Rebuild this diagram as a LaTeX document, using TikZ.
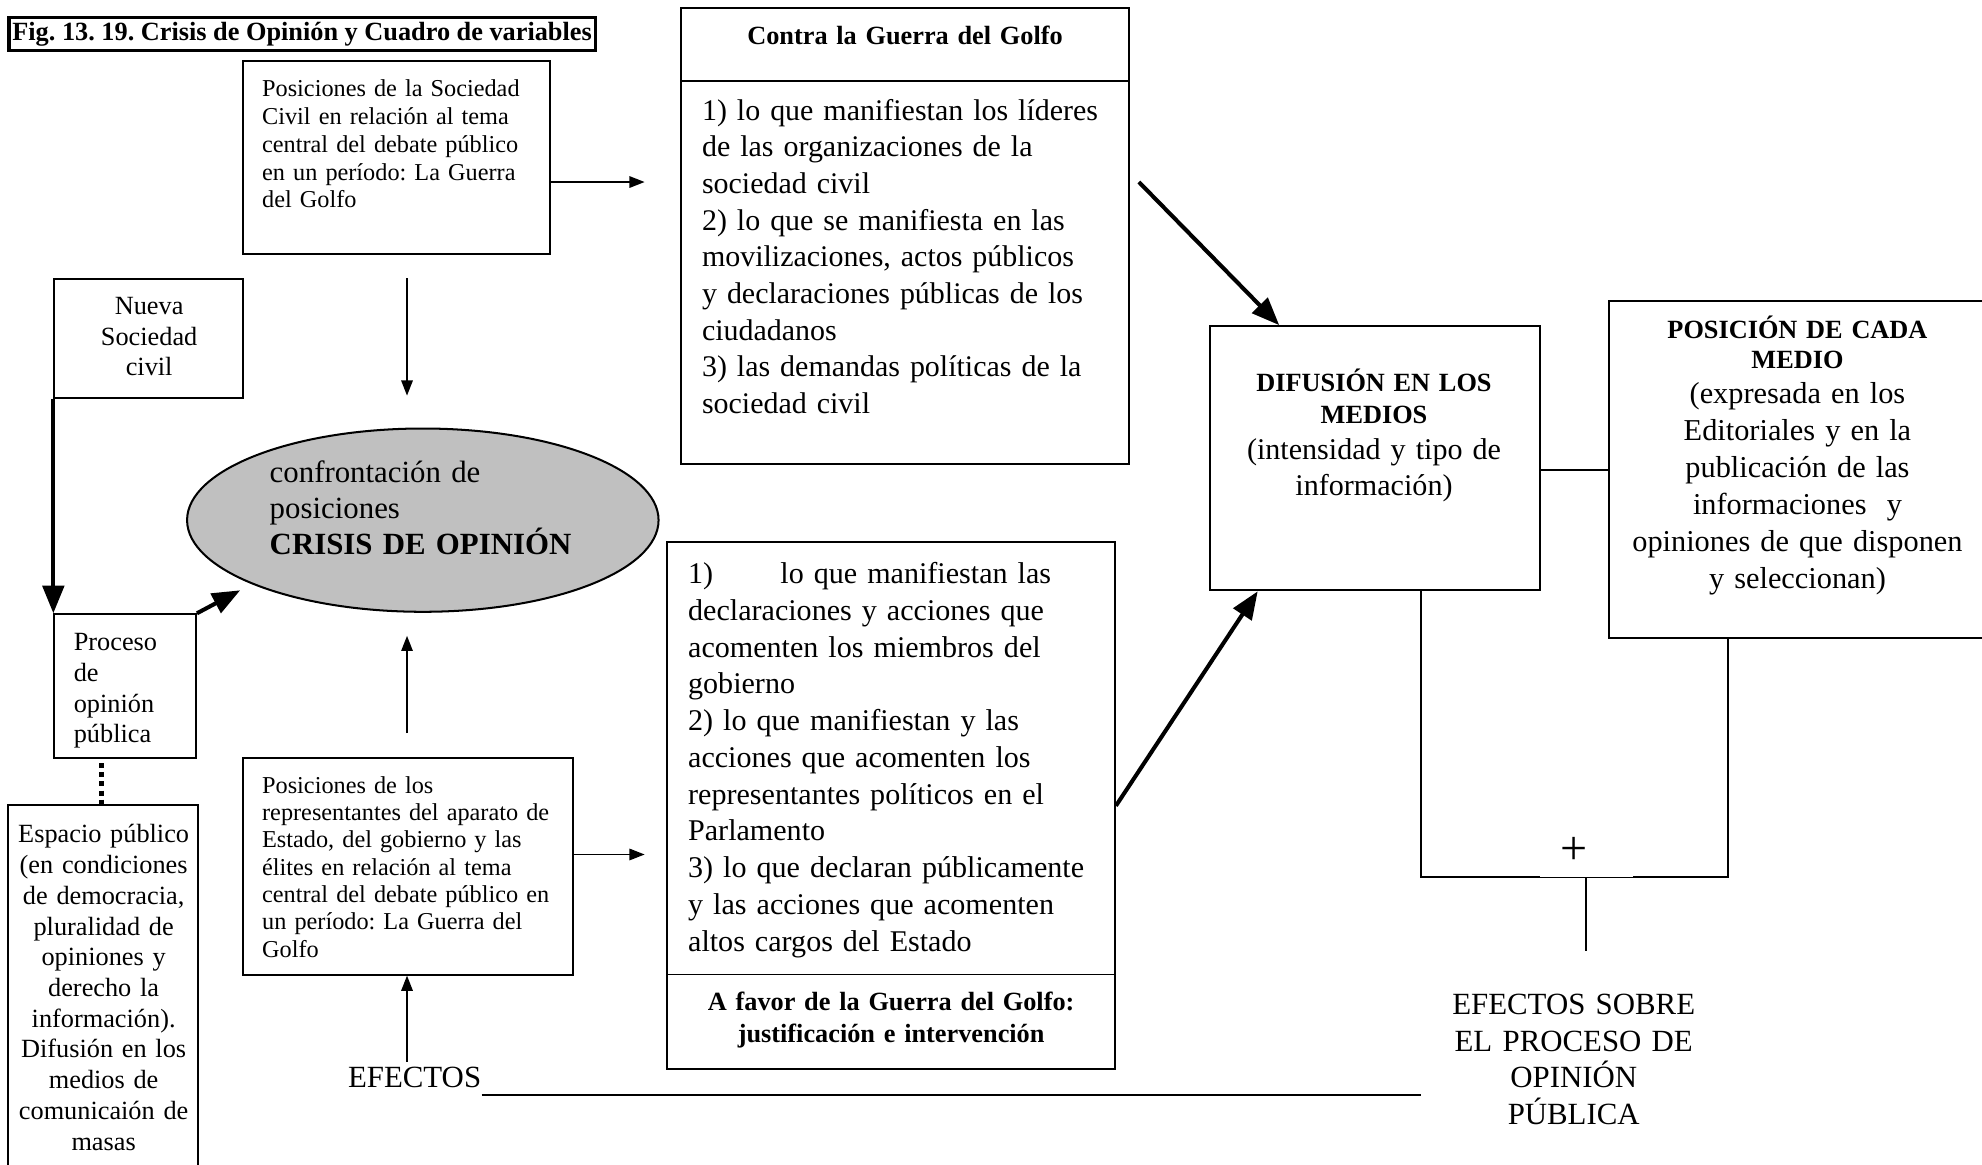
\documentclass[tikz,border=0pt]{standalone}
\usepackage{fontspec}
\setmainfont{Liberation Serif}
\usetikzlibrary{arrows.meta,shapes.geometric,fit}
\definecolor{ellgray}{HTML}{C0C0C0}
\frenchspacing
\begin{document}
\begin{tikzpicture}[x=0.5pt,y=-0.5pt,
  box/.style={draw,line width=0.8pt,inner sep=0pt},
  thinarr/.style={line width=0.7pt,-{Triangle[length=6pt,width=4.5pt]}},
  thickarr/.style={line width=1.6pt,-{Triangle[length=11pt,width=8.5pt]}},
  plain/.style={line width=0.7pt},
  txt/.style={inner sep=0pt,anchor=base west,align=left},
  ctxt/.style={inner sep=0pt,anchor=base,align=center},
  f96/.style={font=\fontsize{9.6}{11}\selectfont},
  f96r/.style={font=\fontsize{9.6}{10.83}\selectfont},
  f104/.style={font=\fontsize{10.4}{12.15}\selectfont},
  f122/.style={font=\fontsize{12.2}{14.5}\selectfont}
]
\useasboundingbox (0,0) rectangle (1568,921);

% title
\node[box,line width=1.4pt,fit={(7,14) (471,40)}] (titlebox) {};
\node[inner sep=0pt,font=\bfseries\fontsize{10.4}{12}\selectfont] (title) at (titlebox.center) {Fig. 13. 19. Crisis de Opinión y Cuadro de variables};

% Posiciones sociedad civil
\node[box,fit={(192,48) (435,201)}] (possc) {};
\node[txt,f96,text width=125pt] (posscT) at (207,76.4) {Posiciones de la Sociedad\\Civil en relación al tema\\central del debate público\\en un período: La Guerra\\del Golfo};
\coordinate (posscTip) at (510,144);
\draw[thinarr] (possc.east |- posscTip) -- (posscTip);

% Contra
\node[box,fit={(539,6) (893,367)}] (contra) {};
\coordinate (contraDiv) at (0,64);
\draw[plain] (contra.west |- contraDiv) -- (contra.east |- contraDiv);
\node[ctxt,font=\bfseries\fontsize{10.4}{12}\selectfont,text width=170pt] (contraH) at (716,35) {Contra la Guerra del Golfo};
\node[txt,font=\fontsize{11.85}{14.5}\selectfont,text width=175pt] (contraT) at (555,95) {1) lo que manifiestan los líderes\\de las organizaciones de la\\sociedad civil\\2) lo que se manifiesta en las\\movilizaciones, actos públicos\\y declaraciones públicas de los\\ciudadanos\\3) las demandas políticas de la\\sociedad civil};

% Nueva sociedad civil
\node[box,fit={(43,221) (192,315)}] (nueva) {};
\node[ctxt,f104,text width=70pt] (nuevaT) at (118,248.8) {Nueva\\Sociedad\\civil};

% ellipse
\node[ellipse,draw,line width=0.8pt,fill=ellgray,minimum width=186.5pt,minimum height=72.5pt,inner sep=0pt] (ell) at (334.5,411.5) {};
\node[txt,font=\fontsize{12.2}{14.25}\selectfont,text width=150pt] (ellT) at (213,381.6) {confrontación de\\posiciones\\\textbf{CRISIS DE OPINIÓN}};

\coordinate (a1s) at (322,220);
\coordinate (a1e) at (322,313);
\draw[thinarr] (a1s) -- (a1e);

% Proceso
\node[box,fit={(43,486) (155,600)}] (proceso) {};
\node[txt,f104,text width=50pt] (procesoT) at (58,514.8) {Proceso\\de\\opinión\\pública};
\draw[thickarr] (nueva.south west) -- (proceso.north west);
\coordinate (peEnd) at (190,467);
\draw[thickarr] (proceso.north east) -- (peEnd);

\coordinate (a2s) at (322,580);
\coordinate (a2e) at (322,503);
\draw[thinarr] (a2s) -- (a2e);

% Espacio publico
\node[box,fit={(6,637) (157,935)}] (esp) {};
\node[ctxt,f104,text width=80pt] (espT) at (82,666.8) {Espacio público\\(en condiciones\\de democracia,\\pluralidad de\\opiniones y\\derecho la\\información).\\Difusión en los\\medios de\\comunicaión de\\masas};
\coordinate (dotx) at (80,0);
\draw[line width=2pt,dash pattern=on 2pt off 1.6pt] ([yshift=-1.5pt]proceso.south -| dotx) -- (esp.north -| dotx);

% Representantes
\node[box,fit={(192,600) (453,771)}] (rep) {};
\node[txt,f96r,text width=125pt] (repT) at (207,627.4) {Posiciones de los\\representantes del aparato de\\Estado, del gobierno y las\\élites en relación al tema\\central del debate público en\\un período: La Guerra del\\Golfo};
\coordinate (repTip) at (510,676);
\draw[thinarr] (rep.east |- repTip) -- (repTip);
\coordinate (a3s) at (322,840);
\draw[thinarr] (a3s) -- (rep.south -| a3s);

% EFECTOS
\node[inner sep=0pt,anchor=base,f122] (efectos) at (328,860.6) {EFECTOS};
\coordinate (eflEnd) at (1124,866);
\draw[plain] (efectos.east |- eflEnd) -- (eflEnd);

% A favor
\node[box,fit={(528,429) (882,846)}] (afavor) {};
\coordinate (afDiv) at (0,771);
\draw[plain] (afavor.west |- afDiv) -- (afavor.east |- afDiv);
\node[txt,font=\fontsize{11.9}{14.55}\selectfont,text width=175pt] (afavorT) at (544,461.6) {\makebox[36.5pt][l]{1)}lo que manifiestan las\\declaraciones y acciones que\\acomenten los miembros del\\gobierno\\2) lo que manifiestan y las\\acciones que acomenten los\\representantes políticos en el\\Parlamento\\3) lo que declaran públicamente\\y las acciones que acomenten\\altos cargos del Estado};
\node[ctxt,font=\bfseries\fontsize{10.4}{12.5}\selectfont,text width=170pt] (afavorH) at (705,799.8) {A favor de la Guerra del Golfo:\\justificación e intervención};

% Difusion
\node[box,fit={(957,258) (1218,467)}] (dif) {};
\node[ctxt,font=\bfseries\fontsize{10.4}{12.5}\selectfont,text width=120pt] (difH) at (1087,309.8) {DIFUSIÓN EN LOS\\MEDIOS};
\node[ctxt,font=\fontsize{11.9}{14}\selectfont,text width=120pt] (difT) at (1087,363.6) {(intensidad y tipo de\\información)};

\coordinate (cdStart) at (901,144);
\coordinate (cdx) at (1012,0);
\draw[thickarr] (cdStart) -- (dif.north -| cdx);
\coordinate (adx) at (995,0);
\draw[thickarr] (afavor.east) -- (dif.south -| adx);

% Posicion de cada medio
\node[box,fit={(1273,238) (1574,505)}] (pos) {};
\node[ctxt,font=\bfseries\fontsize{10.4}{12}\selectfont,text width=140pt] (posH) at (1422,267.8) {POSICIÓN DE CADA\\MEDIO};
\node[ctxt,font=\fontsize{12}{14.6}\selectfont,text width=145pt] (posT) at (1422,319.6) {(expresada en los\\Editoriales y en la\\publicación de las\\informaciones\ \ y\\opiniones de que disponen\\y seleccionan)};

\coordinate (ly) at (0,372);
\draw[plain] (dif.east |- ly) -- (pos.west |- ly);

% bracket
\coordinate (bl) at (1124,694);
\coordinate (br) at (1367,694);
\coordinate (gm1) at (1218,694);
\coordinate (gm2) at (1292,694);
\draw[plain] (dif.south -| bl) -- (bl) -- (gm1);
\draw[line width=0.4pt] (gm1) -- (gm2);
\draw[plain] (gm2) -- (br) -- (pos.south -| br);
\node[inner sep=0pt,font=\fontsize{19}{20}\selectfont] (plus) at (1245,673) {+};
\coordinate (vtop) at (1255,694);
\coordinate (vbot) at (1255,752);
\draw[plain] (vtop) -- (vbot);

\node[ctxt,f122,text width=110pt] (efsob) at (1245,802.6) {EFECTOS SOBRE\\EL PROCESO DE\\OPINIÓN\\PÚBLICA};
\end{tikzpicture}
\end{document}
